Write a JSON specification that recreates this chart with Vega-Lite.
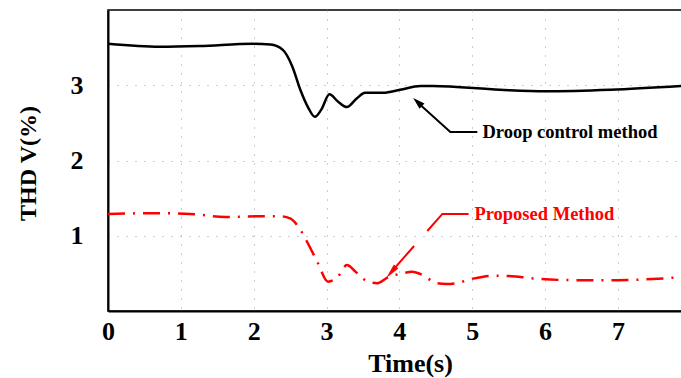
{
  "$schema": "https://vega.github.io/schema/vega-lite/v6.json",
  "width": 574,
  "height": 301,
  "autosize": {"type": "none"},
  "padding": {"left": 108, "top": 10, "right": 0, "bottom": 67},
  "background": "white",
  "config": {
    "view": {"stroke": "#000", "strokeWidth": 1.5},
    "font": "Liberation Serif",
    "axis": {
      "labelFont": "Liberation Serif", "labelFontWeight": "bold", "labelFontSize": 26, "labelColor": "#000",
      "titleFont": "Liberation Serif", "titleFontWeight": "bold", "titleFontSize": 26, "titleColor": "#000",
      "domainColor": "#000", "domainWidth": 2,
      "gridColor": "#9a9a9a", "gridDash": [1, 8], "gridWidth": 1,
      "ticks": false
    }
  },
  "datasets": {
    "droop": [
      {"t": 0, "v": 3.55}, {"t": 0.71, "v": 3.51}, {"t": 1.26, "v": 3.52}, {"t": 1.99, "v": 3.55},
      {"t": 2.23, "v": 3.54}, {"t": 2.4, "v": 3.47}, {"t": 2.53, "v": 3.25}, {"t": 2.64, "v": 2.94},
      {"t": 2.75, "v": 2.7}, {"t": 2.84, "v": 2.58}, {"t": 2.93, "v": 2.68}, {"t": 3.04, "v": 2.88},
      {"t": 3.16, "v": 2.78}, {"t": 3.28, "v": 2.71}, {"t": 3.41, "v": 2.82}, {"t": 3.53, "v": 2.9},
      {"t": 3.78, "v": 2.9}, {"t": 4.01, "v": 2.94}, {"t": 4.29, "v": 2.99}, {"t": 4.46, "v": 2.99},
      {"t": 5.38, "v": 2.94}, {"t": 6.0, "v": 2.92}, {"t": 6.9, "v": 2.94}, {"t": 7.88, "v": 2.99}
    ],
    "proposed": [
      {"t": 0, "v": 1.29}, {"t": 0.65, "v": 1.3}, {"t": 1.13, "v": 1.29}, {"t": 1.61, "v": 1.25},
      {"t": 2.09, "v": 1.26}, {"t": 2.36, "v": 1.26}, {"t": 2.5, "v": 1.23}, {"t": 2.64, "v": 1.08},
      {"t": 2.77, "v": 0.85}, {"t": 2.88, "v": 0.64}, {"t": 3.02, "v": 0.39}, {"t": 3.15, "v": 0.45},
      {"t": 3.28, "v": 0.61}, {"t": 3.4, "v": 0.52}, {"t": 3.55, "v": 0.4}, {"t": 3.7, "v": 0.37},
      {"t": 3.83, "v": 0.44}, {"t": 4.04, "v": 0.5}, {"t": 4.18, "v": 0.52}, {"t": 4.29, "v": 0.49},
      {"t": 4.52, "v": 0.37}, {"t": 4.65, "v": 0.36}, {"t": 4.78, "v": 0.37}, {"t": 5.01, "v": 0.43},
      {"t": 5.3, "v": 0.47}, {"t": 5.6, "v": 0.46}, {"t": 5.76, "v": 0.44}, {"t": 6.41, "v": 0.41},
      {"t": 6.99, "v": 0.41}, {"t": 7.88, "v": 0.45}
    ],
    "annBlack": [
      {"t": 5.07, "v": 2.38, "o": 0}, {"t": 4.7, "v": 2.38, "o": 1}, {"t": 4.24, "v": 2.78, "o": 2}
    ],
    "annRed": [
      {"t": 4.95, "v": 1.29, "o": 0}, {"t": 4.59, "v": 1.29, "o": 1}, {"t": 3.88, "v": 0.51, "o": 2}
    ],
    "headBlack": [
      {"t": 4.19, "v": 2.83, "a": 313}
    ],
    "headRed": [
      {"t": 3.82, "v": 0.44, "a": 221}
    ],
    "labels": [
      {"t": 5.14, "v": 2.38, "c": "black", "txt": "Droop control method"},
      {"t": 5.03, "v": 1.29, "c": "red", "txt": "Proposed Method"}
    ]
  },
  "layer": [
    {
      "data": {"name": "droop"},
      "mark": {"type": "line", "color": "#000", "strokeWidth": 2.5, "interpolate": "monotone", "clip": true},
      "encoding": {
        "x": {"field": "t", "type": "quantitative", "scale": {"domain": [0, 7.88], "nice": false},
          "axis": {"values": [0, 1, 2, 3, 4, 5, 6, 7], "format": "d", "title": "Time(s)", "labelPadding": 7,
            "titleX": 302, "titleY": 52, "titleBaseline": "middle", "titleAlign": "center", "labelFlush": false}},
        "y": {"field": "v", "type": "quantitative", "scale": {"domain": [0, 4], "nice": false},
          "axis": {"values": [1, 2, 3], "format": "d", "title": "THD V(%)", "labelPadding": 25, "labelBaseline": "middle", "titleFontSize": 24,
            "titleX": -80, "titleY": 153, "titleBaseline": "middle", "titleAlign": "center", "titleAngle": -90}}
      }
    },
    {
      "data": {"name": "proposed"},
      "mark": {"type": "line", "color": "#ff0000", "strokeWidth": 2.5, "interpolate": "monotone", "strokeDash": [17, 8, 2, 8], "clip": true},
      "encoding": {
        "x": {"field": "t", "type": "quantitative"},
        "y": {"field": "v", "type": "quantitative"}
      }
    },
    {
      "data": {"name": "annBlack"},
      "mark": {"type": "line", "color": "#000", "strokeWidth": 2},
      "encoding": {
        "x": {"field": "t", "type": "quantitative"},
        "y": {"field": "v", "type": "quantitative"},
        "order": {"field": "o"}
      }
    },
    {
      "data": {"name": "annRed"},
      "mark": {"type": "line", "color": "#ff0000", "strokeWidth": 2, "strokeDash": [49, 20, 80, 10]},
      "encoding": {
        "x": {"field": "t", "type": "quantitative"},
        "y": {"field": "v", "type": "quantitative"},
        "order": {"field": "o"}
      }
    },
    {
      "data": {"name": "headBlack"},
      "mark": {"type": "point", "filled": true, "size": 144, "opacity": 1, "color": "#000", "shape": "M0,0L-0.6,2L0.6,2Z"},
      "encoding": {
        "x": {"field": "t", "type": "quantitative"},
        "y": {"field": "v", "type": "quantitative"},
        "angle": {"field": "a", "type": "quantitative", "scale": null}
      }
    },
    {
      "data": {"name": "headRed"},
      "mark": {"type": "point", "filled": true, "size": 225, "opacity": 1, "color": "#ff0000", "shape": "M0,0L-0.4,2L0.4,2Z"},
      "encoding": {
        "x": {"field": "t", "type": "quantitative"},
        "y": {"field": "v", "type": "quantitative"},
        "angle": {"field": "a", "type": "quantitative", "scale": null}
      }
    },
    {
      "data": {"name": "labels"},
      "mark": {"type": "text", "align": "left", "baseline": "middle", "font": "Liberation Serif", "fontWeight": "bold", "fontSize": 18.5},
      "encoding": {
        "x": {"field": "t", "type": "quantitative"},
        "y": {"field": "v", "type": "quantitative"},
        "text": {"field": "txt"},
        "color": {"field": "c", "type": "nominal", "scale": {"domain": ["black", "red"], "range": ["#000", "#ff0000"]}, "legend": null}
      }
    }
  ]
}
